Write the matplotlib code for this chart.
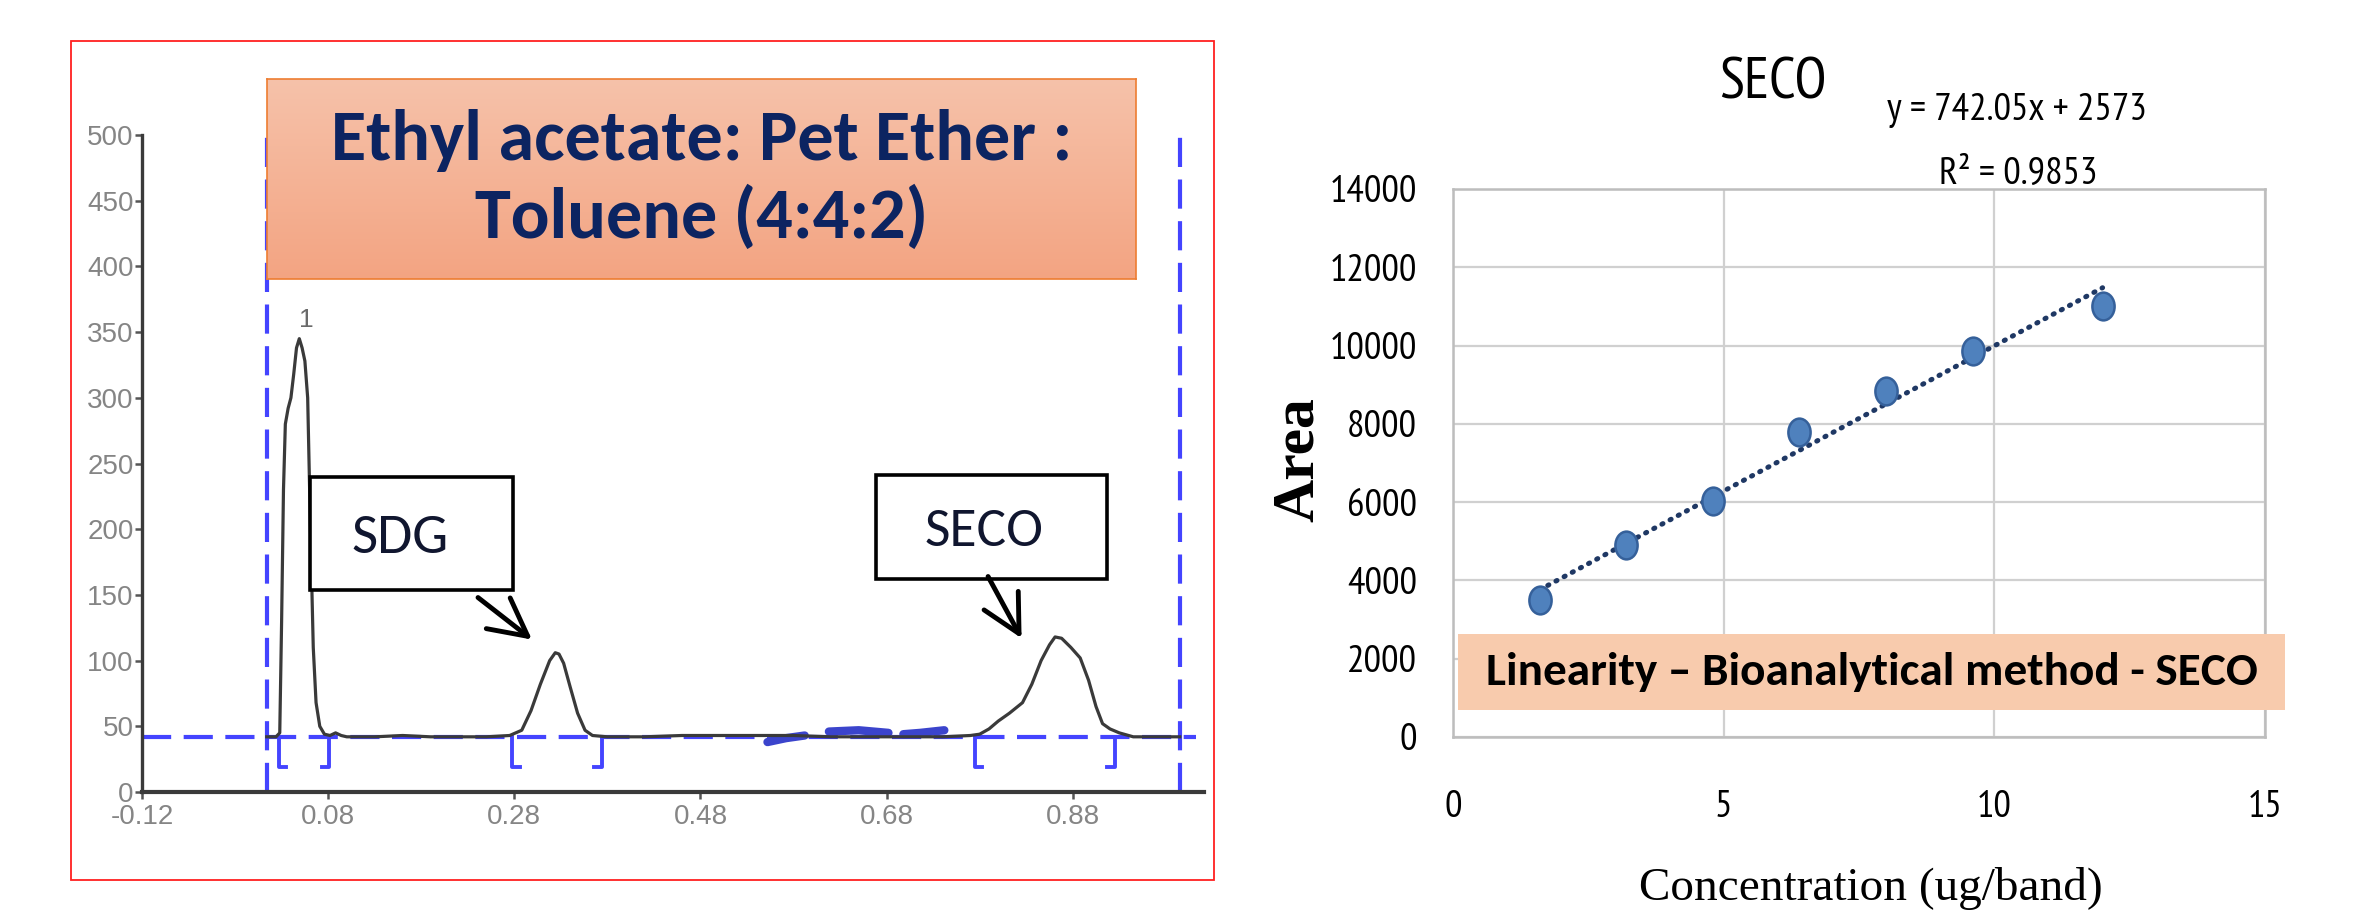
import numpy as np
import matplotlib
matplotlib.use("Agg")
import matplotlib.pyplot as plt
from matplotlib.patches import Rectangle
from matplotlib.markers import MarkerStyle
from matplotlib.transforms import Affine2D
from matplotlib.colors import LinearSegmentedColormap

# ---------------- data: densitogram (left) ----------------
chrom_x = [0.014, 0.024, 0.028, 0.030, 0.032, 0.034, 0.037, 0.040, 0.043, 0.046,
           0.049, 0.052, 0.055, 0.058, 0.061, 0.064, 0.067, 0.071, 0.076, 0.082,
           0.088, 0.094, 0.100, 0.13, 0.16, 0.19, 0.22, 0.25, 0.275, 0.288,
           0.298, 0.308, 0.318, 0.324, 0.328, 0.333, 0.340, 0.348, 0.356, 0.364,
           0.38, 0.42, 0.46, 0.50, 0.54, 0.58, 0.62, 0.66, 0.70, 0.74,
           0.770, 0.780, 0.790, 0.800, 0.812, 0.826, 0.836, 0.846, 0.855, 0.861,
           0.868, 0.878, 0.888, 0.897, 0.905, 0.912, 0.920, 0.930, 0.945, 0.97, 0.995]
chrom_y = [42, 42, 45, 130, 230, 280, 292, 300, 318, 338,
           345, 338, 328, 300, 200, 110, 68, 50, 44, 43,
           45, 43, 42, 42, 43, 42, 42, 42, 43, 47,
           62, 82, 100, 106, 105, 98, 80, 60, 47, 43,
           42, 42, 43, 43, 43, 43, 42, 42, 42, 42,
           43, 44, 48, 54, 60, 68, 82, 100, 112, 118,
           117, 110, 102, 85, 65, 52, 48, 45, 42, 42, 42]
baseline_y = 42
window_x = [0.014, 0.995]
bracket_open_x = [0.027, 0.278, 0.775]
bracket_close_x = [0.081, 0.374, 0.925]
fit_seg_x = [[0.552, 0.572, 0.592], [0.618, 0.650, 0.682], [0.698, 0.716, 0.742]]
fit_seg_y = [[38, 41, 43], [46, 47, 45], [44, 45, 47]]
left_xticks = [-0.12, 0.08, 0.28, 0.48, 0.68, 0.88]
left_xticklabels = ["-0.12", "0.08", "0.28", "0.48", "0.68", "0.88"]
left_yticks = [0, 50, 100, 150, 200, 250, 300, 350, 400, 450, 500]

# ---------------- data: linearity (right) ----------------
conc = [1.6, 3.2, 4.8, 6.4, 8.0, 9.6, 12.0]
area = [3500, 4900, 6030, 7800, 8830, 9870, 11000]
slope, intercept = 742.05, 2573
right_xticks = [0, 5, 10, 15]
right_yticks = [0, 2000, 4000, 6000, 8000, 10000, 12000, 14000]

W, H = 2379, 919
fig = plt.figure(figsize=(W / 100, H / 100), dpi=100)
fig.patch.set_facecolor("white")

def fx(px):
    return px / W

def fy(py):
    return 1 - py / H

calibri = ["Carlito", "Lato", "DejaVu Sans"]
narrow = ["PT Sans Narrow", "Roboto Condensed", "DejaVu Sans"]
serif = ["Liberation Serif", "DejaVu Serif"]
arial = ["Liberation Sans", "DejaVu Sans"]

# ================= LEFT PANEL =================
ax1 = fig.add_axes([fx(142), fy(792), (1204 - 142) / W, (792 - 135) / H])
ax1.set_xlim(-0.12, 1.021)
ax1.set_ylim(0, 500)
for s in ["top", "right"]:
    ax1.spines[s].set_visible(False)
ax1.spines["left"].set_color("#3a3a3a")
ax1.spines["left"].set_linewidth(2.4)
ax1.spines["bottom"].set_color("#3a3a3a")
ax1.spines["bottom"].set_linewidth(3)
ax1.set_xticks(left_xticks)
ax1.set_xticklabels(left_xticklabels)
ax1.set_yticks(left_yticks)
ax1.tick_params(axis="both", colors="#555555", labelcolor="#858585",
                labelsize=20, length=5, width=1.8, direction="out")
ax1.tick_params(axis="y", pad=1)
ax1.tick_params(axis="x", pad=4)
for lab in ax1.get_xticklabels() + ax1.get_yticklabels():
    lab.set_family(arial)

blue = "#4444ff"
dash = (0, (7, 3))
ax1.plot([-0.12, 1.012], [baseline_y, baseline_y], color=blue, lw=3.0,
         linestyle=dash, zorder=2, clip_on=False)
for wx in window_x:
    ax1.plot([wx, wx], [0, 500], color=blue, lw=3.0, linestyle=dash, zorder=2)
for bx in bracket_open_x:
    ax1.plot([bx, bx, bx + 0.008], [baseline_y, 19, 19], color=blue, lw=2.8, zorder=2)
for bx in bracket_close_x:
    ax1.plot([bx, bx, bx - 0.008], [baseline_y, 19, 19], color=blue, lw=2.8, zorder=2)
for sx, sy in zip(fit_seg_x, fit_seg_y):
    ax1.plot(sx, sy, color="#3b44cc", lw=6, solid_capstyle="round", zorder=3)

ax1.plot(chrom_x, chrom_y, color="#3a3a3a", lw=2.3, zorder=4)
ax1.text(0.057, 350, "1", color="#6a6a6a", fontsize=19, ha="center", va="bottom",
         family=arial)

# label boxes
ax1.add_patch(Rectangle((0.060, 154), 0.279 - 0.060, 240 - 154, facecolor="white",
                        edgecolor="black", lw=2.6, zorder=5))
ax1.text(0.157, 194, "SDG", fontsize=41, color="#10162f", ha="center", va="center",
         family=calibri, zorder=6)
ax1.add_patch(Rectangle((0.669, 162), 0.917 - 0.669, 241 - 162, facecolor="white",
                        edgecolor="black", lw=2.6, zorder=5))
ax1.text(0.785, 198, "SECO", fontsize=40, color="#10162f", ha="center", va="center",
         family=calibri, zorder=6)
arrow_kw = dict(arrowstyle="->,head_length=1.35,head_width=0.7", color="black",
                lw=3.5, mutation_scale=20, shrinkA=0, shrinkB=0)
ax1.annotate("", xy=(0.299, 116), xytext=(0.241, 148), arrowprops=arrow_kw, zorder=6)
ax1.annotate("", xy=(0.825, 117), xytext=(0.789, 164), arrowprops=arrow_kw, zorder=6)

# title box with gradient
tb = fig.add_axes([fx(267), fy(279), (1136 - 267) / W, (279 - 79) / H], zorder=5)
grad = np.linspace(0, 1, 256).reshape(-1, 1)
cmap = LinearSegmentedColormap.from_list("g", ["#f6c2aa", "#f3a482"])
tb.imshow(grad, aspect="auto", cmap=cmap, extent=[0, 1, 0, 1], origin="upper")
tb.set_xticks([])
tb.set_yticks([])
for s in tb.spines.values():
    s.set_color("#ed7d31")
    s.set_linewidth(1.2)
tb.text(0.5, 0.69, "Ethyl acetate: Pet Ether :", fontsize=52, fontweight="bold",
        color="#0c2461", ha="center", va="center", family=calibri)
tb.text(0.5, 0.31, "Toluene (4:4:2)", fontsize=52, fontweight="bold",
        color="#0c2461", ha="center", va="center", family=calibri)

# red frame
fig.add_artist(Rectangle((fx(71), fy(880)), (1214 - 71) / W, (880 - 41) / H,
                         transform=fig.transFigure, fill=False, edgecolor="#ff2020",
                         lw=1.3, zorder=10))

# ================= RIGHT PANEL =================
ax2 = fig.add_axes([fx(1453), fy(737), (2265 - 1453) / W, (737 - 189) / H])
ax2.set_xlim(0, 15)
ax2.set_ylim(0, 14000)
ax2.set_xticks(right_xticks)
ax2.set_yticks(right_yticks)
ax2.grid(True, color="#d0d0d0", lw=1.6)
ax2.set_axisbelow(True)
for s in ax2.spines.values():
    s.set_color("#bdbdbd")
    s.set_linewidth(1.8)
ax2.tick_params(axis="both", length=0, labelsize=28, labelcolor="black")
ax2.tick_params(axis="y", pad=26)
ax2.tick_params(axis="x", pad=38)
for lab in ax2.get_xticklabels() + ax2.get_yticklabels():
    lab.set_family(narrow)

xfit = np.array([conc[0], conc[-1]])
ax2.plot(xfit, slope * xfit + intercept, color="#1f3864", lw=3.6,
         linestyle=(0, (0.25, 1.6)), dash_capstyle="round", zorder=3)
mk = MarkerStyle("o", transform=Affine2D().scale(0.8, 1.0))
ax2.plot(conc, area, linestyle="none", marker=mk, markersize=20,
         markerfacecolor="#4f81bd", markeredgecolor="#35609a", markeredgewidth=1.8,
         zorder=4)

fig.text(fx(1773), fy(84), "SECO", fontsize=42, ha="center", va="center", family=narrow)
fig.text(fx(2017), fy(110), "y = 742.05x + 2573", fontsize=28, ha="center",
         va="center", family=narrow)
fig.text(fx(2018), fy(174), "R\u00b2 = 0.9853", fontsize=28, ha="center",
         va="center", family=narrow)
fig.text(fx(1299), fy(460), "Area", fontsize=43, fontweight="bold", rotation=90,
         ha="center", va="center", family=serif)
fig.text(fx(1871), fy(888), "Concentration (ug/band)", fontsize=34, ha="center",
         va="center", family=serif)

fig.add_artist(Rectangle((fx(1458), fy(710)), (2285 - 1458) / W, (710 - 634) / H,
                         transform=fig.transFigure, facecolor="#f8cbad",
                         edgecolor="none", zorder=6))
fig.text(fx(1872), fy(672), "Linearity \u2013 Bioanalytical method - SECO", fontsize=34,
         fontweight="bold", ha="center", va="center", color="black",
         family=calibri, zorder=7)

fig.savefig("out.png", dpi=100, facecolor="white")
